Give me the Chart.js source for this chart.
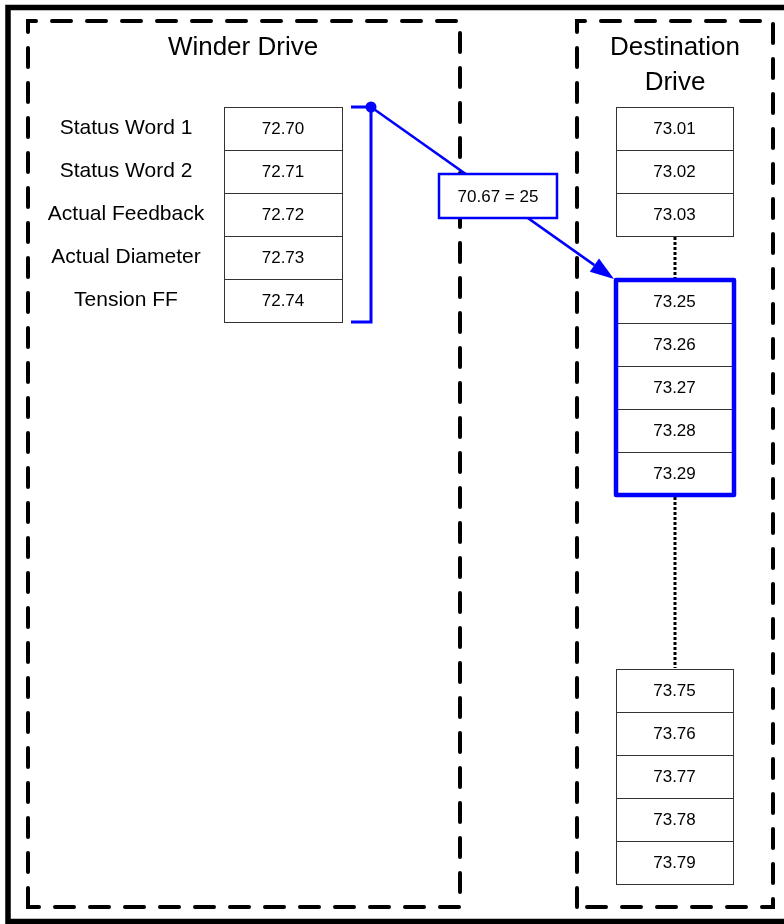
<!DOCTYPE html>
<html>
<head>
<meta charset="utf-8">
<script src="https://cdn.jsdelivr.net/npm/chart.js@4"></script>
<style>
  html, body { margin: 0; padding: 0; background: #fff; }
  #wrap { width: 784px; height: 924px; }
</style>
</head>
<body>
<div id="wrap"><canvas id="myChart" width="784" height="924"></canvas></div>
<script>
// diagram content
const panelTitles = ['Winder Drive', 'Destination Drive'];
const winderLabels = ['Status Word 1', 'Status Word 2', 'Actual Feedback', 'Actual Diameter', 'Tension FF'];
const winderParams = ['72.70', '72.71', '72.72', '72.73', '72.74'];
const destTop = ['73.01', '73.02', '73.03'];
const destMapped = ['73.25', '73.26', '73.27', '73.28', '73.29'];
const destBottom = ['73.75', '73.76', '73.77', '73.78', '73.79'];
const linkText = '70.67 = 25';

// layout, in diagram units (0..784 across, 0..924 down)
const ROW_H = 43;
const FONT = '"Liberation Sans", Arial, sans-serif';
const BLUE = '#0000ff';

function dashedBox(ctx, X, Y, l, t, r, b) {
  ctx.save();
  ctx.strokeStyle = '#000';
  ctx.lineWidth = 4;
  ctx.lineCap = 'round';
  ctx.setLineDash([19, 16]);
  ctx.beginPath();
  ctx.moveTo(X(l), Y(b));
  ctx.lineTo(X(l), Y(t));
  ctx.lineTo(X(r), Y(t));
  ctx.lineTo(X(r), Y(b));
  ctx.closePath();
  ctx.stroke();
  ctx.restore();
}

function column(ctx, X, Y, left, right, top, params) {
  ctx.save();
  ctx.strokeStyle = '#333';
  ctx.lineWidth = 1;
  ctx.fillStyle = '#000';
  ctx.font = '17px ' + FONT;
  ctx.textAlign = 'center';
  ctx.textBaseline = 'middle';
  params.forEach(function (p, i) {
    const t = top + i * ROW_H;
    ctx.fillStyle = '#fff';
    ctx.fillRect(X(left), Y(t), X(right) - X(left), Y(t + ROW_H) - Y(t));
    ctx.strokeRect(Math.round(X(left)) + 0.5, Math.round(Y(t)) + 0.5,
      Math.round(X(right) - X(left)), Math.round(Y(t + ROW_H) - Y(t)));
    ctx.fillStyle = '#000';
    ctx.fillText(p, X((left + right) / 2), Y(t + ROW_H / 2) + 1);
  });
  ctx.restore();
}

function dotted(ctx, X, Y, x, y1, y2) {
  ctx.save();
  ctx.strokeStyle = '#000';
  ctx.lineWidth = 3;
  ctx.setLineDash([3, 2]);
  ctx.beginPath();
  ctx.moveTo(X(x), Y(y1));
  ctx.lineTo(X(x), Y(y2));
  ctx.stroke();
  ctx.restore();
}

const diagram = {
  id: 'diagram',
  afterDraw(chart) {
    const ctx = chart.ctx;
    const xs = chart.scales.x, ys = chart.scales.y;
    const X = v => xs.getPixelForValue(v);
    const Y = v => ys.getPixelForValue(v);

    // outer frame
    ctx.save();
    ctx.strokeStyle = '#000';
    ctx.lineWidth = 5.5;
    ctx.strokeRect(X(8), Y(7.5), X(800) - X(8), Y(921.5) - Y(7.5));
    ctx.restore();

    // panels
    dashedBox(ctx, X, Y, 28, 21, 460, 907);
    dashedBox(ctx, X, Y, 577, 21, 773, 907);

    // titles
    ctx.save();
    ctx.fillStyle = '#000';
    ctx.font = '26px ' + FONT;
    ctx.textAlign = 'center';
    ctx.textBaseline = 'alphabetic';
    ctx.fillText(panelTitles[0], X(243), Y(55));
    const dest = panelTitles[1].split(' ');
    ctx.fillText(dest[0], X(675), Y(55));
    ctx.fillText(dest[1], X(675), Y(90));
    ctx.restore();

    // winder labels
    ctx.save();
    ctx.fillStyle = '#000';
    ctx.font = '21px ' + FONT;
    ctx.textAlign = 'center';
    ctx.textBaseline = 'middle';
    winderLabels.forEach(function (lab, i) {
      ctx.fillText(lab, X(126), Y(107 + i * ROW_H + ROW_H / 2));
    });
    ctx.restore();

    // register columns
    column(ctx, X, Y, 224, 342, 107, winderParams);
    dotted(ctx, X, Y, 675, 237, 279);
    dotted(ctx, X, Y, 675, 497, 668);
    column(ctx, X, Y, 616, 733, 107, destTop);
    column(ctx, X, Y, 616, 733, 280, destMapped);
    column(ctx, X, Y, 616, 733, 669, destBottom);

    // highlight of mapped block
    const mapBottom = 280 + destMapped.length * ROW_H;
    ctx.save();
    ctx.strokeStyle = BLUE;
    ctx.lineWidth = 4.5;
    ctx.lineJoin = 'round';
    ctx.strokeRect(X(616), Y(280), X(734) - X(616), Y(mapBottom) - Y(280));
    ctx.restore();

    // bracket round the winder block
    const brTop = 107, brBot = 107 + winderParams.length * ROW_H;
    ctx.save();
    ctx.strokeStyle = BLUE;
    ctx.lineWidth = 3;
    ctx.beginPath();
    ctx.moveTo(X(351), Y(brTop));
    ctx.lineTo(X(371), Y(brTop));
    ctx.lineTo(X(371), Y(brBot));
    ctx.lineTo(X(351), Y(brBot));
    ctx.stroke();

    // link from bracket to mapped block
    const sx = X(371), sy = Y(brTop), tx = X(614), ty = Y(279);
    ctx.lineWidth = 2.5;
    const ang = Math.atan2(ty - sy, tx - sx);
    const hl = 24, hw = 8;
    const bx = tx - hl * Math.cos(ang), by = ty - hl * Math.sin(ang);
    ctx.beginPath();
    ctx.moveTo(sx, sy);
    ctx.lineTo(bx, by);
    ctx.stroke();
    ctx.fillStyle = BLUE;
    ctx.beginPath();
    ctx.moveTo(tx, ty);
    ctx.lineTo(bx + hw * Math.sin(ang), by - hw * Math.cos(ang));
    ctx.lineTo(bx - hw * Math.sin(ang), by + hw * Math.cos(ang));
    ctx.closePath();
    ctx.fill();
    ctx.beginPath();
    ctx.arc(sx, sy, 5.5, 0, Math.PI * 2);
    ctx.fill();

    // link label
    ctx.fillStyle = '#fff';
    ctx.fillRect(X(439), Y(174), X(557) - X(439), Y(218) - Y(174));
    ctx.lineWidth = 2.5;
    ctx.strokeRect(X(439), Y(174), X(557) - X(439), Y(218) - Y(174));
    ctx.fillStyle = '#000';
    ctx.font = '17px ' + FONT;
    ctx.textAlign = 'center';
    ctx.textBaseline = 'middle';
    ctx.fillText(linkText, X(498), Y(196) + 1);
    ctx.restore();
  }
};

let ctx = document.getElementById('myChart').getContext('2d');
let myChart = new Chart(ctx, {
  type: 'scatter',
  data: { datasets: [] },
  options: {
    responsive: false,
    animation: false,
    events: [],
    layout: { padding: 0 },
    plugins: {
      legend: { display: false },
      tooltip: { enabled: false },
      title: { display: false }
    },
    scales: {
      x: { type: 'linear', min: 0, max: 784, display: false },
      y: { type: 'linear', min: 0, max: 924, reverse: true, display: false }
    }
  },
  plugins: [diagram]
});
</script>
</body>
</html>
